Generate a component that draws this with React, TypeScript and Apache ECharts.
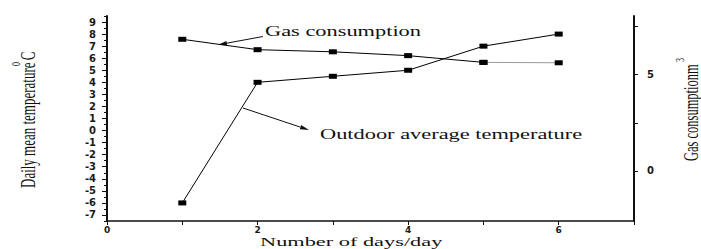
import React, { useEffect, useRef } from 'react';
import * as echarts from 'echarts';

const days = [1, 2, 3, 4, 5, 6];
const temperature = [-6, 4, 4.5, 5, 7, 8];
const gasConsumption = [6.84, 6.3, 6.19, 5.99, 5.64, 5.62];
const xLabelValues = [0, 2, 4, 6];
const xTickValues = [0, 1, 2, 3, 4, 5, 6, 7];
const leftTickValues = [-7, -6, -5, -4, -3, -2, -1, 0, 1, 2, 3, 4, 5, 6, 7, 8, 9];
const rightTickValues = [0, 2.5, 5, 7.5];
const rightLabelValues = [0, 5];

const SERIF = 'Liberation Serif';
const TICKFONT = 'DejaVu Sans';
const INK = '#111';
const STRETCH = 1.6;

function arrow(x1: number, y1: number, x2: number, y2: number) {
  const dx = x2 - x1;
  const dy = y2 - y1;
  const len = Math.sqrt(dx * dx + dy * dy);
  const ux = dx / len;
  const uy = dy / len;
  const hl = 9;
  const hw = 2.2;
  const bx = x2 - ux * hl;
  const by = y2 - uy * hl;
  return [
    { type: 'line', shape: { x1, y1, x2: bx, y2: by }, style: { stroke: INK, lineWidth: 1 } },
    {
      type: 'polygon',
      shape: {
        points: [
          [x2, y2],
          [bx - uy * hw, by + ux * hw],
          [bx + uy * hw, by - ux * hw],
        ],
      },
      style: { fill: INK },
    },
  ];
}

function textStyle(text: string, size: number) {
  return {
    text,
    fontFamily: SERIF,
    fontSize: size,
    fill: INK,
    align: 'left',
    verticalAlign: 'middle',
    textAlign: 'left',
    textVerticalAlign: 'middle',
  };
}

function stretchedText(text: string, x: number, y: number, size: number, stretch: number = STRETCH) {
  return { type: 'text', x, y, scaleX: stretch, style: textStyle(text, size) };
}

function rotatedName(main: string, sup: string, tail: string, x: number, y: number, size: number, mainLen: number) {
  const children: any[] = [
    { type: 'text', x: 0, y: 0, style: textStyle(main, size) },
    { type: 'text', x: mainLen, y: -size * 0.6, style: textStyle(sup, Math.round(size * 0.62)) },
  ];
  if (tail) {
    children.push({ type: 'text', x: mainLen + size * 0.45, y: 0, style: textStyle(tail, size) });
  }
  return { type: 'group', x, y, rotation: Math.PI / 2, scaleY: STRETCH, children };
}

export default function App() {
  const ref = useRef<HTMLDivElement>(null);

  useEffect(() => {
    if (!ref.current) return;
    const chart = echarts.init(ref.current, null, { renderer: 'svg' });

    const tempData = days.map((d, i) => [d, temperature[i]]);
    const gasData = days.map((d, i) => [d, gasConsumption[i]]);

    const markerStyle = {
      symbol: 'rect',
      symbolSize: [8, 5],
      itemStyle: { color: '#000' },
    };

    const tickLabel = {
      color: '#1a1a1a',
      fontFamily: TICKFONT,
      fontWeight: 'bold',
      fontSize: 10,
      hideOverlap: false,
    };

    chart.setOption({
      animation: false,
      backgroundColor: '#fff',
      grid: { left: 107, right: 67, top: 16, bottom: 28, containLabel: false },
      xAxis: {
        type: 'value',
        min: 0,
        max: 7,
        interval: 1,
        axisLine: { show: true, onZero: false, lineStyle: { color: INK, width: 1.5 } },
        axisTick: { show: true, inside: false, length: 4, customValues: xTickValues, lineStyle: { color: INK, width: 1 } },
        axisLabel: {
          ...tickLabel,
          fontSize: 9,
          margin: 4,
          customValues: xLabelValues,
        },
        splitLine: { show: false },
      },
      yAxis: [
        {
          type: 'value',
          position: 'left',
          min: -7.5,
          max: 9.5,
          interval: 0.5,
          axisLine: { show: true, onZero: false, lineStyle: { color: INK, width: 2 } },
          axisTick: { show: true, inside: false, length: 3, lineStyle: { color: INK, width: 1 } },
          axisLabel: {
            ...tickLabel,
            margin: 11,
            formatter: (v: number) => (leftTickValues.indexOf(v) >= 0 ? String(v) : ''),
          },
          splitLine: { show: false },
        },
        {
          type: 'value',
          position: 'right',
          min: -2.6,
          max: 8.05,
          axisLine: { show: true, onZero: false, lineStyle: { color: INK, width: 2 } },
          axisTick: { show: true, inside: false, length: 4, customValues: rightTickValues, lineStyle: { color: INK, width: 1 } },
          axisLabel: {
            ...tickLabel,
            margin: 13,
            customValues: rightLabelValues,
          },
          splitLine: { show: false },
        },
        {
          type: 'value',
          position: 'left',
          min: -7.5,
          max: 9.5,
          axisLine: { show: false },
          axisTick: { show: true, inside: false, length: 5, customValues: leftTickValues, lineStyle: { color: INK, width: 1 } },
          axisLabel: { show: false },
          splitLine: { show: false },
        },
      ],
      series: [
        {
          name: 'Outdoor average temperature',
          type: 'line',
          yAxisIndex: 0,
          data: tempData,
          ...markerStyle,
          lineStyle: { color: '#000', width: 1 },
          z: 3,
        },
        {
          name: 'Gas consumption',
          type: 'line',
          yAxisIndex: 1,
          data: gasData.slice(0, 5),
          ...markerStyle,
          lineStyle: { color: '#000', width: 1 },
          z: 3,
        },
        {
          name: 'Gas consumption tail',
          type: 'line',
          yAxisIndex: 1,
          data: gasData.slice(4),
          ...markerStyle,
          lineStyle: { color: '#999', width: 1 },
          z: 2,
        },
      ],
      graphic: [
        stretchedText('Gas consumption', 265, 31.5, 14),
        ...arrow(263, 36.5, 218, 44.8),
        stretchedText('Outdoor average temperature', 320, 134.5, 14),
        ...arrow(243, 108, 309, 130),
        stretchedText('Number of days/day', 260, 242, 13, 1.72),
        rotatedName('Daily mean temperature', '0', 'C', 28, 188, 13, 122),
        rotatedName('Gas consumptionm', '3', '', 691, 161, 12.5, 99),
      ],
    });

    return () => chart.dispose();
  }, []);

  return (
    <div style={{ position: 'fixed', left: 0, top: 0, width: 701, height: 249, background: '#fff' }}>
      <div ref={ref} style={{ width: 701, height: 249 }} />
    </div>
  );
}
